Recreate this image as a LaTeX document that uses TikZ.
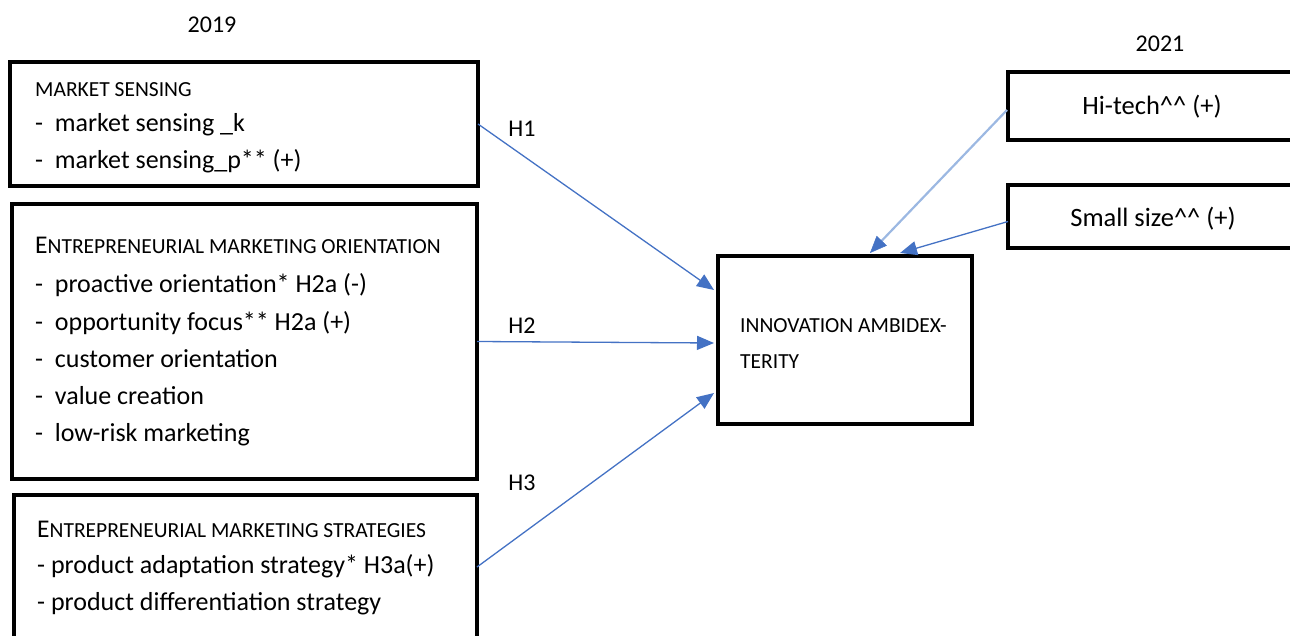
\documentclass[tikz,border=0pt]{standalone}
\usepackage{fontspec}
\setmainfont{Carlito}
\usetikzlibrary{calc,arrows.meta}
\definecolor{arr}{HTML}{4472C4}
\definecolor{arrlight}{HTML}{9CB8E2}
\begin{document}
\begin{tikzpicture}[x=1pt,y=-1pt,
  box/.style={draw=black,line width=4pt,inner sep=0pt,outer sep=0pt},
  txt/.style={anchor=base west,inner sep=0pt,font=\fontsize{26}{30}\selectfont},
  head/.style={anchor=base west,inner sep=0pt,font=\fontsize{21.5}{25}\selectfont},
  ctr/.style={anchor=base,inner sep=0pt,font=\fontsize{24}{28}\selectfont},
  big/.style={anchor=base,inner sep=0pt,font=\fontsize{26.5}{30}\selectfont},
  link/.style={draw=arr,line width=1.3pt,-{Triangle[length=17pt,width=14pt]}}]
\useasboundingbox (0,0) rectangle (1290,636);
\clip (0,0) rectangle (1290,636);
% boxes
\node[box,minimum width=468,minimum height=124] (ms) at (244,124) {};
\node[box,minimum width=465,minimum height=275] (eo) at (244.5,341.5) {};
\node[box,minimum width=463,minimum height=150] (es) at (245.5,570) {};
\node[box,minimum width=254,minimum height=168] (ia) at (845,340) {};
\node[box,minimum width=292,minimum height=68] (ht) at (1154,106) {};
\node[box,minimum width=292,minimum height=63] (ss) at (1154,216.5) {};
% years
\node[ctr] (y19) at (212,33) {2019};
\node[ctr] (y21) at (1160,52) {2021};
% box texts
\node[head] (ms0) at (35,97) {MARKET SENSING};
\node[txt] (ms1) at (35,132) {-\ \ market sensing \_k};
\node[txt] (ms2) at (35,169) {-\ \ market sensing\_p** (+)};
\node[head] (eo0) at (35,254) {{\fontsize{25.5}{28}\selectfont E}NTREPRENEURIAL MARKETING ORIENTATION};
\node[txt] (eo1) at (35,293) {-\ \ proactive orientation* H2a (-)};
\node[txt] (eo2) at (35,330) {-\ \ opportunity focus** H2a (+)};
\node[txt] (eo3) at (35,367) {-\ \ customer orientation};
\node[txt] (eo4) at (35,404) {-\ \ value creation};
\node[txt] (eo5) at (35,441) {-\ \ low-risk marketing};
\node[head] (es0) at (37,537) {{\fontsize{25.5}{28}\selectfont E}NTREPRENEURIAL MARKETING STRATEGIES};
\node[txt] (es1) at (37,573) {- product adaptation strategy* H3a(+)};
\node[txt] (es2) at (37,610) {- product differentiation strategy};
\node[head] (ia1) at (740,332) {INNOVATION AMBIDEX-};
\node[head] (ia2) at (740,368) {TERITY};
\node[big] (htt) at (1152,115) {Hi-tech\^{}\^{} (+)};
\node[big] (sst) at (1153,227) {Small size\^{}\^{} (+)};
% hypothesis labels
\node[ctr] (h1) at (522,137) {H1};
\node[ctr] (h2) at (522,333) {H2};
\node[ctr] (h3) at (522,490) {H3};
% connectors
\draw[link] (ms.east) -- ($(ia.west)+(-4,-50)$);
\draw[link] (eo.east) -- ($(ia.west)+(-4,3)$);
\draw[link] ($(es.east)+(0,-3)$) -- ($(ia.west)+(-4,53)$);
\draw[link,draw=arrlight,line width=2.2pt,-{Triangle[length=17pt,width=14pt,color=arr,fill=arr,line width=0.5pt]}] ($(ht.west)+(-1,4)$) -- ($(ia.north)+(25,-3)$);
\draw[link] ($(ss.west)+(0,5)$) -- ($(ia.north)+(55,-3)$);
\end{tikzpicture}
\end{document}
